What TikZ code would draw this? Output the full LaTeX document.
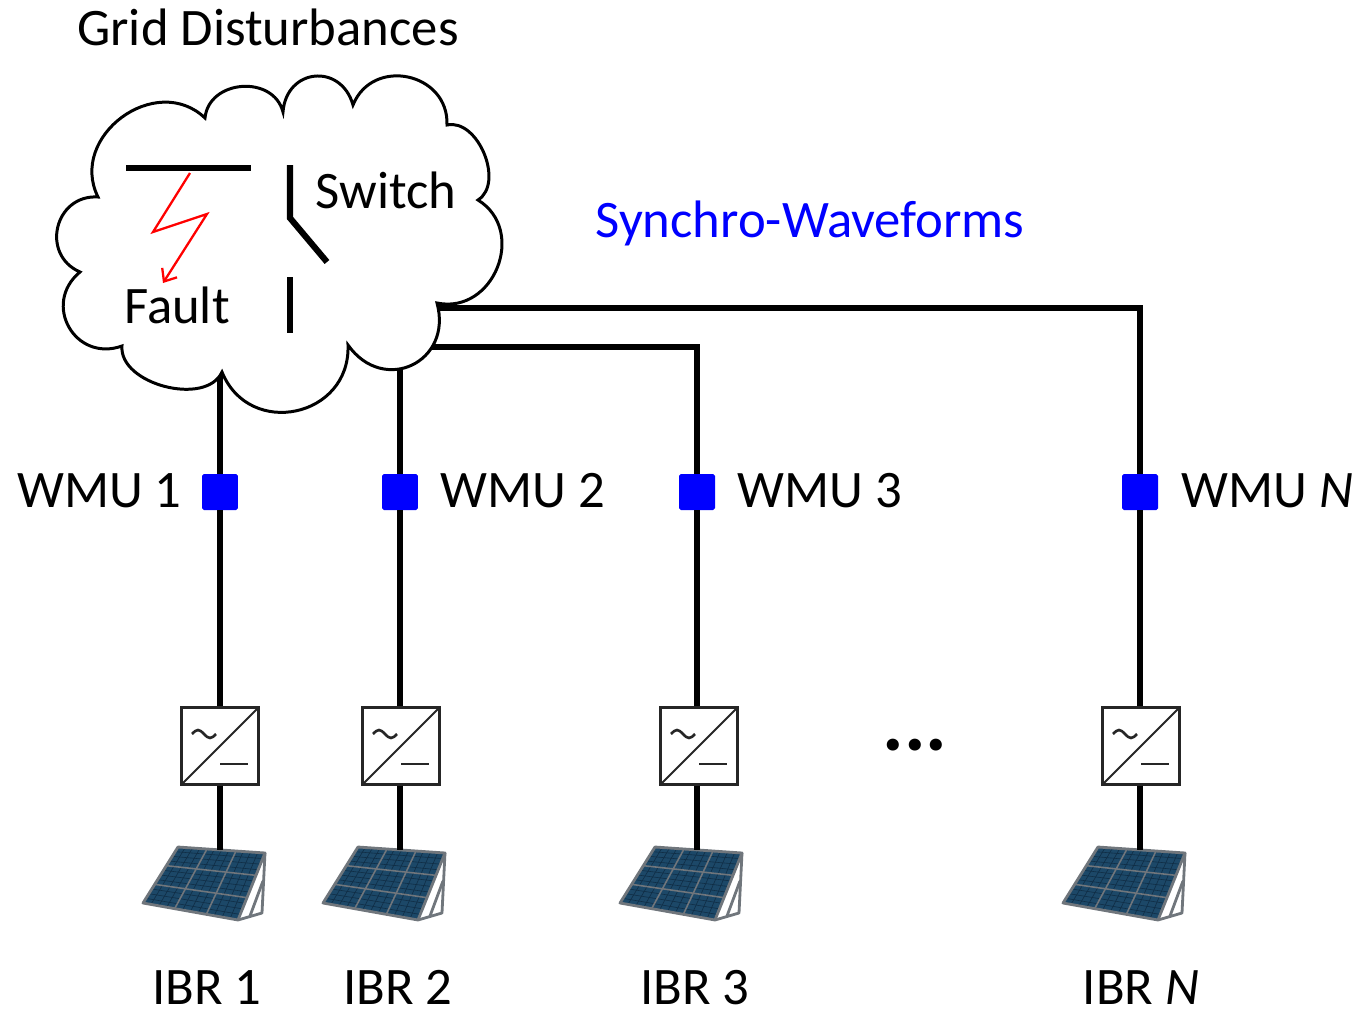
\documentclass[tikz,border=0pt]{standalone}
\usepackage{fontspec}
\setmainfont{Carlito}
\usetikzlibrary{calc,arrows.meta}

\definecolor{panelblue}{RGB}{28,72,104}
\definecolor{cellblue}{RGB}{16,46,70}
\definecolor{framegray}{RGB}{112,118,124}

\tikzset{
  bus/.style={line width=3.5pt},
  cloudline/.style={line width=1.7pt, fill=white},
  puff/.style={bend left=80, looseness=#1},
  puff/.default=1.4,
  wmu/.style={fill=blue, rounded corners=1pt, minimum size=0.72cm, inner sep=0pt},
  lbl/.style={anchor=base, inner sep=0pt},
  conv/.style={draw=black!85, line width=1.2pt, fill=white, minimum size=1.54cm, inner sep=0pt,
    path picture={
      \draw[line width=1.1pt] (path picture bounding box.south west) -- (path picture bounding box.north east);
      \draw[line width=1.5pt] ([shift={(-28,-12)}]path picture bounding box.center)
        sin ++(6,-4) cos ++(6,4) sin ++(6,4) cos ++(6,-4);
      \draw[line width=1.5pt] ([shift={(0,18)}]path picture bounding box.center) -- ++(28,0);
    }},
  pvpanel/.pic={
    % stand behind the module
    \draw[framegray, line width=1.6pt, line join=round] (45,5) -- (42,65) -- (18,72);
    \draw[framegray, line width=1.6pt] (30,68) -- (43,33);
    % module surface and cell texture
    \fill[panelblue] (-42,-1) -- (45,5) -- (18,72) -- (-77,55) -- cycle;
    \foreach \i in {1,...,11} {
      \draw[cellblue, line width=0.35pt] ($(-42,-1)!\i/12!(45,5)$) -- ($(-77,55)!\i/12!(18,72)$);
      \draw[cellblue, line width=0.35pt] ($(-42,-1)!\i/12!(-77,55)$) -- ($(45,5)!\i/12!(18,72)$);
    }
    % 3x3 module grid
    \foreach \i in {1,2} {
      \draw[framegray, line width=0.9pt] ($(-42,-1)!\i/3!(45,5)$) -- ($(-77,55)!\i/3!(18,72)$);
      \draw[framegray, line width=0.9pt] ($(-42,-1)!\i/3!(-77,55)$) -- ($(45,5)!\i/3!(18,72)$);
    }
    \draw[framegray, line width=1.6pt, line join=round] (-42,-1) -- (45,5) -- (18,72) -- (-77,55) -- cycle;
    \coordinate (-top) at (0,2);
  }
}

\begin{document}
\begin{tikzpicture}[x=0.02cm, y=-0.02cm, every node/.style={font=\fontsize{30}{36}\selectfont}]

\useasboundingbox (0,0) rectangle (1357,1015);

% BRANCH 1
\node[wmu] (wmu1) at (220,492) {};
\node[lbl, anchor=base east] (wmulab1) at (182,507) {WMU 1};
\node[conv] (conv1) at (220,746) {};
\pic (pv1) at (220,848) {pvpanel};
\node[lbl] (ibr1) at (207,1004) {IBR 1};

% BRANCH 2
\node[wmu] (wmu2) at (400,492) {};
\node[lbl, anchor=base west] (wmulab2) at (440,507) {WMU 2};
\node[conv] (conv2) at (401,746) {};
\pic (pv2) at (400,848) {pvpanel};
\node[lbl] (ibr2) at (398,1004) {IBR 2};

% BRANCH 3
\node[wmu] (wmu3) at (697,492) {};
\node[lbl, anchor=base west] (wmulab3) at (737,507) {WMU 3};
\node[conv] (conv3) at (699,746) {};
\pic (pv3) at (697,848) {pvpanel};
\node[lbl] (ibr3) at (695,1004) {IBR 3};

% BRANCH N
\node[wmu] (wmuN) at (1140,492) {};
\node[lbl, anchor=base west] (wmulabN) at (1181,507) {WMU \textit{N}};
\node[conv] (convN) at (1141,746) {};
\pic (pvN) at (1140,848) {pvpanel};
\node[lbl] (ibrN) at (1141,1004) {IBR \textit{N}};

% more branches
\node[font=\fontsize{46}{50}\selectfont\bfseries] (more) at (915,745) {...};

% feeder ends inside the cloud
\coordinate (f1) at (220,372);
\coordinate (f2) at (400,355);
\coordinate (f3) at (415,347);
\coordinate (f4) at (430,308);

% feeders
\draw[bus] (f1) -- (wmu1) -- (conv1) -- (pv1-top);
\draw[bus] (f2) -- (wmu2) -- (conv2.north -| wmu2) (conv2.south -| wmu2) -- (pv2-top);
\draw[bus] (f3) -| (wmu3) (wmu3) -- (conv3.north -| wmu3) (conv3.south -| wmu3) -- (pv3-top);
\draw[bus] (f4) -| (wmuN) (wmuN) -- (convN.north -| wmuN) (convN.south -| wmuN) -- (pvN-top);

% cloud
\draw[cloudline] (98,197) to[puff=1.3] (205,118) to[puff=1.27] (283,112) to[puff=1.6] (353,105)
  to[puff=1.4] (447,125) to[puff=1.0] (478,200) to[puff=1.34] (437,303) to[puff=1.6] (348,345)
  to[puff=1.44] (222,372) to[puff=0.95] (122,346) to[puff=1.5] (80,272) to[puff=1.44] cycle;

\node[lbl] (title) at (268,45) {Grid Disturbances};

% fault on the bus bar
\draw[bus] (126,168) -- (251,168);
\draw[red, line width=1.3pt, line join=miter, -{Straight Barb[length=6pt,width=10pt]}]
  (190,173) -- (153,232) -- (207,214) -- (163,283);
\node[lbl] (fault) at (177,323) {Fault};

% open switch
\draw[bus] (290,165) -- (290,218) -- (327,262);
\draw[bus] (290,277) -- (290,333);
\node[lbl] (switch) at (386,208) {Switch};

\node[lbl, text=blue] (sync) at (810,237) {Synchro-Waveforms};

\end{tikzpicture}
\end{document}
